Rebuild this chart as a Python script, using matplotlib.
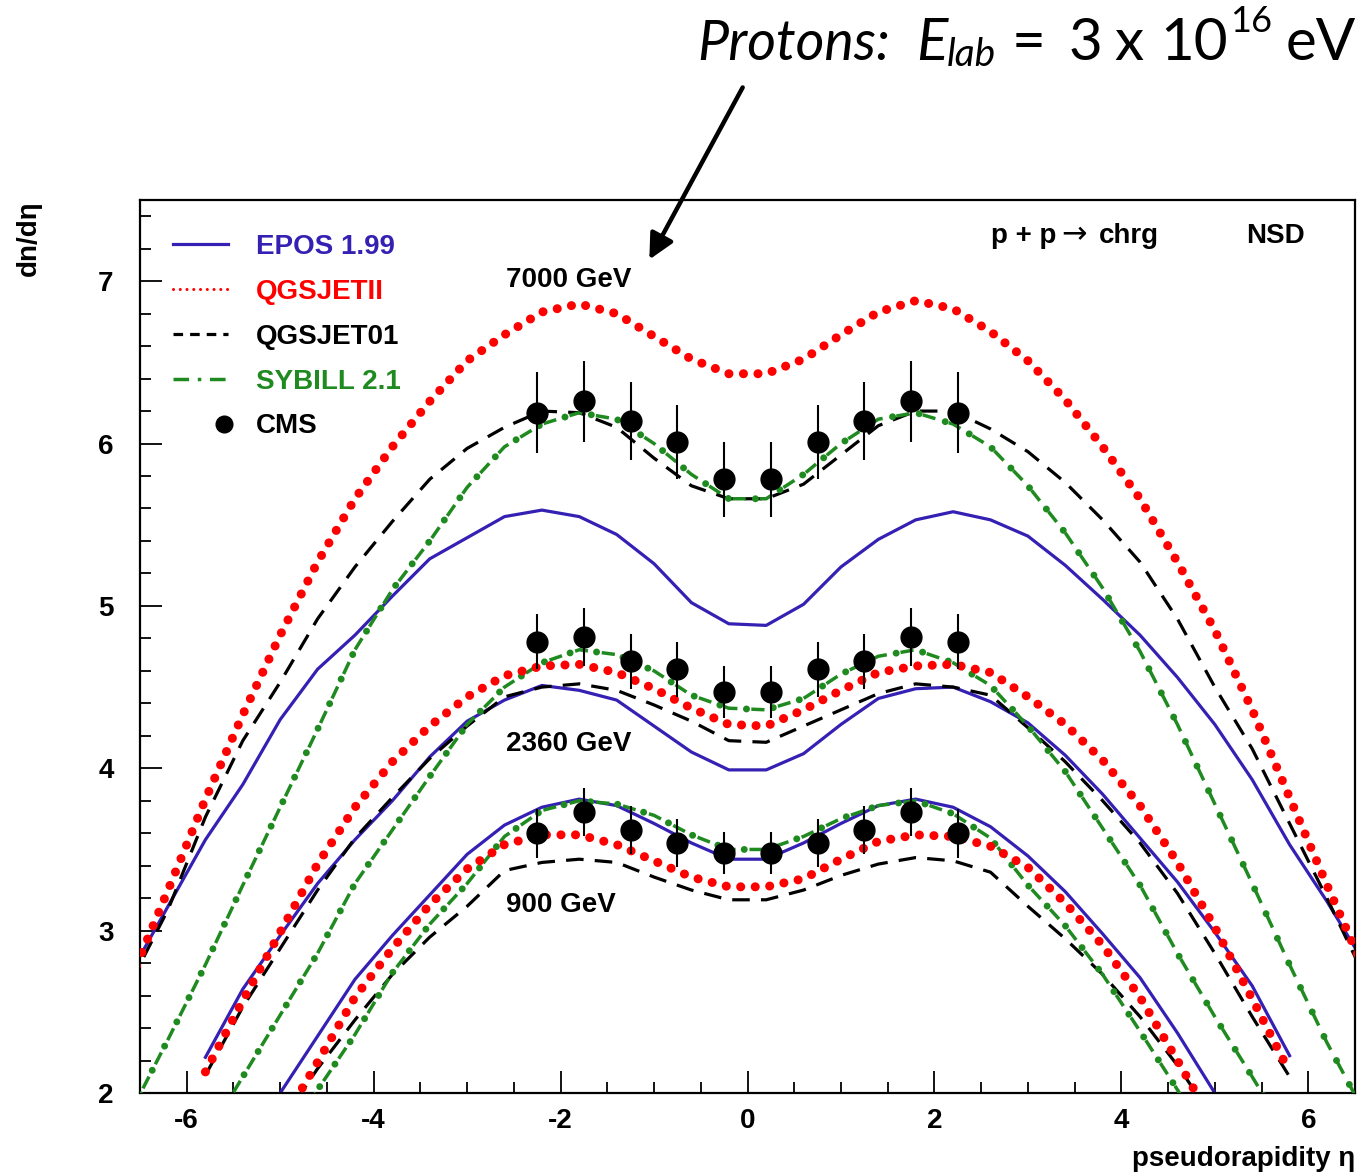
import matplotlib
matplotlib.use("Agg")
import matplotlib.pyplot as plt
from matplotlib.lines import Line2D
from matplotlib.legend_handler import HandlerLine2D
import numpy as np

plt.rcParams['font.family'] = ['Liberation Sans', 'DejaVu Sans']
plt.rcParams['axes.unicode_minus'] = False

nan = np.nan

# pseudorapidity grid of the model curves
eta = [-6.6, -6.2, -5.8, -5.4, -5.0, -4.6, -4.2, -3.8, -3.4, -3.0, -2.6, -2.2, -1.8, -1.4, -1.0, -0.6, -0.2,
       0.2, 0.6, 1.0, 1.4, 1.8, 2.2, 2.6, 3.0, 3.4, 3.8, 4.2, 4.6, 5.0, 5.4, 5.8, 6.2, 6.6]

# EPOS 1.99
epos_7000 = [2.74, 3.15, 3.56, 3.90, 4.30, 4.61, 4.82, 5.06, 5.29, 5.42, 5.55, 5.59, 5.55, 5.44, 5.26, 5.02, 4.89,
             4.88, 5.01, 5.24, 5.41, 5.53, 5.58, 5.53, 5.43, 5.25, 5.04, 4.82, 4.56, 4.27, 3.93, 3.53, 3.18, 2.80]
epos_2360 = [nan, nan, 2.22, 2.64, 2.97, 3.29, 3.56, 3.80, 4.07, 4.29, 4.42, 4.51, 4.48, 4.42, 4.26, 4.10, 3.99,
             3.99, 4.09, 4.27, 4.43, 4.49, 4.50, 4.41, 4.28, 4.08, 3.84, 3.57, 3.30, 2.99, 2.66, 2.23, nan, nan]
epos_900 = [nan, nan, nan, 1.62, 2.00, 2.35, 2.70, 2.97, 3.22, 3.47, 3.65, 3.76, 3.81, 3.77, 3.66, 3.54, 3.44,
            3.44, 3.54, 3.66, 3.77, 3.81, 3.76, 3.64, 3.46, 3.24, 2.98, 2.71, 2.37, 2.00, 1.62, nan, nan, nan]

# QGSJETII
qgs2_7000 = [2.70, 3.25, 3.81, 4.33, 4.82, 5.27, 5.66, 5.98, 6.26, 6.51, 6.67, 6.81, 6.86, 6.80, 6.66, 6.52, 6.43,
             6.43, 6.52, 6.67, 6.81, 6.88, 6.83, 6.69, 6.51, 6.27, 5.98, 5.66, 5.27, 4.85, 4.36, 3.82, 3.28, 2.76]
qgs2_2360 = [nan, nan, 2.13, 2.57, 2.99, 3.41, 3.76, 4.04, 4.26, 4.44, 4.57, 4.63, 4.64, 4.59, 4.49, 4.37, 4.27,
             4.26, 4.36, 4.48, 4.59, 4.63, 4.64, 4.59, 4.44, 4.27, 4.05, 3.77, 3.42, 3.02, 2.58, 2.13, nan, nan]
qgs2_900 = [nan, nan, nan, nan, 1.80, 2.19, 2.59, 2.89, 3.16, 3.38, 3.53, 3.59, 3.59, 3.53, 3.43, 3.33, 3.27,
            3.27, 3.32, 3.44, 3.55, 3.59, 3.58, 3.52, 3.39, 3.17, 2.91, 2.59, 2.20, 1.80, nan, nan, nan, nan]

# QGSJET01
qgs1_7000 = [2.68, 3.13, 3.70, 4.17, 4.53, 4.92, 5.24, 5.52, 5.78, 5.97, 6.10, 6.20, 6.19, 6.10, 5.91, 5.74, 5.66,
             5.66, 5.75, 5.93, 6.11, 6.20, 6.20, 6.09, 5.95, 5.76, 5.53, 5.27, 4.92, 4.50, 4.12, 3.66, 3.20, 2.72]
qgs1_2360 = [nan, nan, 2.11, 2.53, 2.89, 3.25, 3.57, 3.82, 4.06, 4.26, 4.44, 4.50, 4.52, 4.48, 4.39, 4.29, 4.17,
             4.16, 4.26, 4.36, 4.46, 4.52, 4.50, 4.45, 4.25, 4.04, 3.80, 3.54, 3.23, 2.86, 2.47, 2.10, nan, nan]
qgs1_900 = [nan, nan, nan, nan, 1.81, 2.15, 2.45, 2.73, 2.96, 3.15, 3.37, 3.42, 3.44, 3.42, 3.33, 3.25, 3.19,
            3.19, 3.25, 3.34, 3.41, 3.45, 3.43, 3.36, 3.15, 2.95, 2.73, 2.47, 2.17, 1.83, nan, nan, nan, nan]

# SYBILL 2.1
syb_7000 = [1.88, 2.33, 2.79, 3.28, 3.76, 4.24, 4.73, 5.10, 5.40, 5.73, 5.98, 6.12, 6.19, 6.15, 6.00, 5.81, 5.66,
            5.66, 5.81, 6.00, 6.15, 6.19, 6.12, 5.98, 5.74, 5.45, 5.11, 4.72, 4.27, 3.78, 3.29, 2.79, 2.31, 1.88]
syb_2360 = [nan, nan, 1.72, 2.10, 2.48, 2.86, 3.29, 3.62, 3.95, 4.27, 4.50, 4.65, 4.73, 4.70, 4.60, 4.45, 4.37,
            4.36, 4.43, 4.58, 4.69, 4.73, 4.65, 4.51, 4.26, 3.98, 3.63, 3.28, 2.86, 2.47, 2.10, 1.72, nan, nan]
syb_900 = [nan, nan, nan, nan, 1.65, 2.02, 2.36, 2.74, 3.04, 3.29, 3.58, 3.74, 3.80, 3.78, 3.71, 3.59, 3.50,
           3.50, 3.58, 3.69, 3.77, 3.80, 3.72, 3.57, 3.28, 3.03, 2.73, 2.38, 2.02, 1.65, nan, nan, nan, nan]

# CMS NSD measurements
eta_cms = [-2.25, -1.75, -1.25, -0.75, -0.25, 0.25, 0.75, 1.25, 1.75, 2.25]
cms_7000 = [6.19, 6.26, 6.14, 6.01, 5.78, 5.78, 6.01, 6.14, 6.26, 6.19]
cms_7000_err = [0.25, 0.25, 0.24, 0.23, 0.23, 0.23, 0.23, 0.24, 0.25, 0.25]
cms_2360 = [4.78, 4.81, 4.66, 4.61, 4.47, 4.47, 4.61, 4.66, 4.81, 4.78]
cms_2360_err = [0.17, 0.18, 0.17, 0.17, 0.16, 0.16, 0.17, 0.17, 0.18, 0.17]
cms_900 = [3.60, 3.73, 3.62, 3.54, 3.48, 3.48, 3.54, 3.62, 3.73, 3.60]
cms_900_err = [0.15, 0.15, 0.15, 0.15, 0.13, 0.13, 0.15, 0.15, 0.15, 0.15]

energy_labels = ['7000 GeV', '2360 GeV', '900 GeV']
energy_label_pos = [(-2.58, 7.01), (-2.58, 4.15), (-2.58, 3.16)]

blue = '#3520b4'
red = '#ff0000'
green = '#1f8a1f'


class RightMarkerHandler(HandlerLine2D):
    # legend key with the marker near the right end, as in the ROOT legend
    def get_xdata(self, legend, xdescent, ydescent, width, height, fontsize):
        xdata = np.array([-xdescent + 0.86 * width, -xdescent + width])
        return xdata, np.array([-xdescent + 0.93 * width])


fig = plt.figure(figsize=(13.64, 11.74), dpi=100)
ax = fig.add_axes([140 / 1364, 81 / 1174, 1215 / 1364, 893 / 1174])

for y in [epos_7000, epos_2360, epos_900]:
    ax.plot(eta, y, color=blue, lw=2.3, zorder=2)
for y in [qgs1_7000, qgs1_2360, qgs1_900]:
    ax.plot(eta, y, color='black', lw=2.3, ls=(0, (5.5, 3.5)), zorder=3)
for y in [syb_7000, syb_2360, syb_900]:
    ax.plot(eta, y, color=green, lw=2.5, ls=(0, (3.8, 4.0)), zorder=4)
    ax.plot(eta, y, color=green, lw=5.0, ls=(1.0, (0.01, 3.9)), dash_capstyle='round', zorder=4)
for y in [qgs2_7000, qgs2_2360, qgs2_900]:
    ax.plot(eta, y, color=red, lw=6.5, ls=(0, (0.01, 1.6)), dash_capstyle='round', zorder=5)

for y, e in [(cms_7000, cms_7000_err), (cms_2360, cms_2360_err), (cms_900, cms_900_err)]:
    ax.errorbar(eta_cms, y, yerr=e, fmt='o', color='black', ms=15, elinewidth=1.5, capsize=0, zorder=6)

for lab, (x, y) in zip(energy_labels, energy_label_pos):
    ax.text(x, y, lab, fontsize=20, fontweight='bold', ha='left', va='center')

ax.text(2.61, 7.28, 'p + p', fontsize=20, fontweight='bold', ha='left', va='center')
ax.text(3.36, 7.285, '\u2192', fontsize=22, family='DejaVu Sans', ha='left', va='center')
ax.text(3.76, 7.28, 'chrg', fontsize=20, fontweight='bold', ha='left', va='center')
ax.text(5.34, 7.28, 'NSD', fontsize=20, fontweight='bold', ha='left', va='center')

ax.set_xlim(-6.5, 6.5)
ax.set_ylim(2, 7.5)
ax.set_xticks([-6, -4, -2, 0, 2, 4, 6])
ax.set_xticks(np.arange(-6.5, 6.51, 0.5), minor=True)
ax.set_yticks([2, 3, 4, 5, 6, 7])
ax.set_yticks(np.arange(2, 7.51, 0.2), minor=True)
ax.tick_params(which='major', direction='in', length=16, width=1.3, labelsize=20)
ax.tick_params(which='minor', direction='in', length=8, width=1.3)
ax.tick_params(axis='y', pad=19)
ax.tick_params(axis='x', pad=11)
for lab in ax.get_xticklabels() + ax.get_yticklabels():
    lab.set_fontweight('bold')
for s in ax.spines.values():
    s.set_linewidth(1.6)

ax.set_xlabel('pseudorapidity \u03b7', loc='right', fontsize=20, fontweight='bold')
ax.xaxis.set_label_coords(1.0, -0.059)
ax.set_ylabel('dn/d\u03b7', loc='top', fontsize=20, fontweight='bold')
ax.yaxis.set_label_coords(-0.081, 1.0)

h_cms = Line2D([], [], color='black', marker='o', ls='none', ms=12)
handles = [
    Line2D([], [], color=blue, lw=2.3),
    Line2D([], [], color=red, lw=2.2, ls=(0, (0.01, 2.2)), dash_capstyle='round'),
    Line2D([], [], color='black', lw=2.3, ls=(0, (3.0, 2.2))),
    Line2D([], [], color=green, lw=2.5, ls=(0, (4.5, 2.5, 1.0, 2.5))),
    h_cms,
]
labels = ['EPOS 1.99', 'QGSJETII', 'QGSJET01', 'SYBILL 2.1', 'CMS']
leg = ax.legend(handles, labels, loc='upper left', bbox_to_anchor=(0.027, 0.962), frameon=False,
                borderpad=0, borderaxespad=0, handlelength=2.0, handletextpad=1.0, labelspacing=0.68,
                prop={'size': 20, 'weight': 'bold'},
                labelcolor=[blue, red, 'black', green, 'black'],
                handler_map={h_cms: RightMarkerHandler()})

# energy annotation above the frame: (text, x px, baseline px, size, style, align)
title_parts = [
    ('Protons:', 697, 60, 40, 'italic', 'left'),
    ('E', 916, 60, 42, 'italic', 'left'),
    ('lab', 947, 66, 28, 'italic', 'left'),
    ('=', 1012, 60, 42, 'normal', 'left'),
    ('3', 1069, 60, 42, 'normal', 'left'),
    ('x', 1114, 60, 42, 'normal', 'left'),
    ('10', 1228, 60, 42, 'normal', 'right'),
    ('16', 1230, 32, 26, 'normal', 'left'),
    ('eV', 1286, 60, 42, 'normal', 'left'),
]
for txt, px, py, size, style, align in title_parts:
    fig.text(px / 1364, 1 - py / 1174, txt, fontsize=size, fontstyle=style,
             family='Lato', ha=align, va='baseline')

ax.annotate('', xy=(648, 1174 - 262), xycoords='figure pixels',
            xytext=(744, 1174 - 85), textcoords='figure pixels',
            arrowprops=dict(arrowstyle='-|>', lw=3.2, color='black', mutation_scale=38),
            annotation_clip=False)

fig.savefig('out.png', dpi=100)
